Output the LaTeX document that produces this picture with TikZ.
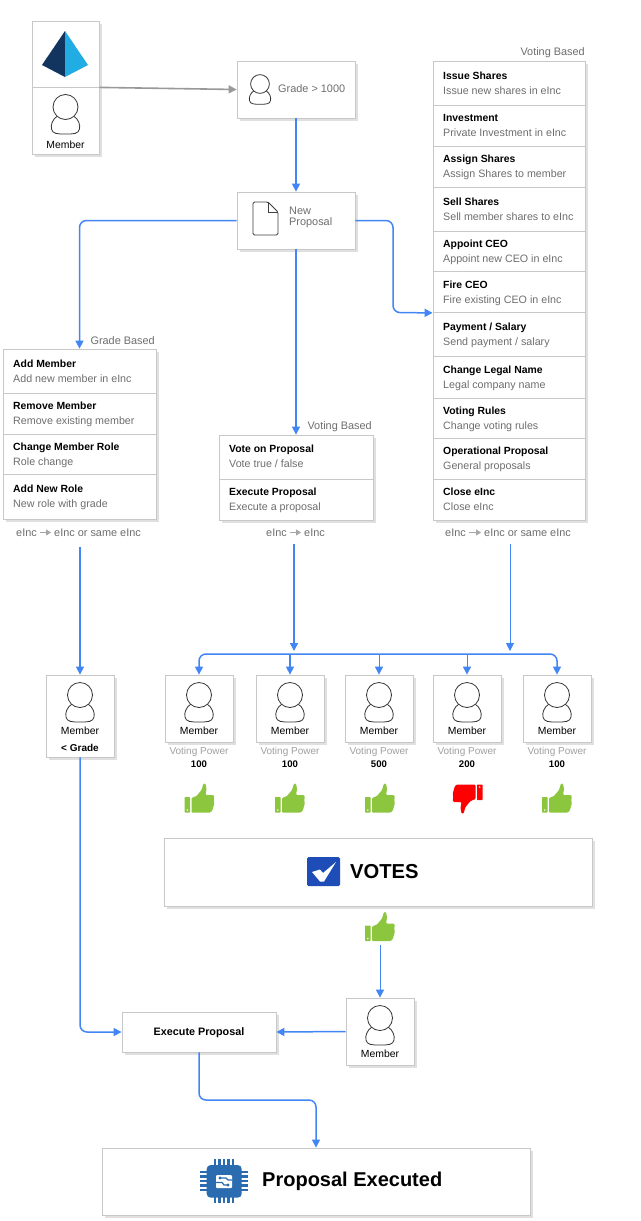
\documentclass[tikz,border=0pt]{standalone}
\usepackage{fontspec}
\setmainfont{Liberation Sans}
\usetikzlibrary{arrows.meta,shadows}
\definecolor{linkblue}{HTML}{4285F4}
\definecolor{edgegray}{HTML}{C8C8C8}
\definecolor{subgray}{HTML}{6E6E6E}
\definecolor{powergray}{HTML}{A0A0A0}
\definecolor{thumbgreen}{HTML}{8CC63F}
\definecolor{checkblue}{HTML}{1E4DB7}
\definecolor{chipblue}{HTML}{2B6CB0}
\definecolor{pyrdark}{HTML}{12355F}
\definecolor{pyrlight}{HTML}{21ACE4}
\newcommand{\fs}[1]{\fontsize{#1}{#1}\selectfont}
\tikzset{
  frame/.style={draw=edgegray,line width=.8pt,fill=white,inner sep=0pt,
    drop shadow={shadow xshift=2.5pt,shadow yshift=-2.5pt,opacity=.12,fill=black}},
  rowbox/.style={draw=edgegray,line width=.8pt,inner sep=0pt},
  flow/.style={draw=linkblue,line width=1.5pt,rounded corners=7pt,-{Triangle[length=8pt,width=8pt]}},
  thinflow/.style={flow,line width=1pt},
  greyflow/.style={draw=black!40,line width=1.6pt,-{Triangle[length=8pt,width=8pt]}},
  smallarrow/.style={draw=black!35,line width=.8pt,-{Triangle[length=5pt,width=6pt]}},
  evenline/.style={inner sep=0pt,text height=9pt,text depth=1.5pt},
  rowtitle/.style={evenline,anchor=west,font=\fs{10.4}\bfseries,text=black},
  rowsub/.style={evenline,anchor=west,font=\fs{10.7},text=subgray},
  tag/.style={evenline,font=\fs{10.9},text=subgray},
  membertext/.style={evenline,font=\fs{10.4},text=black},
  powertext/.style={evenline,font=\fs{10},text=powergray},
  powervalue/.style={evenline,font=\fs{9.6}\bfseries,text=black},
  personicon/.pic={
    \draw[line width=.8pt,fill=white,draw=black!80] (-8,9) .. controls (-13,12) and (-15,18) .. (-14,22)
      .. controls (-13,27) and (-8,27) .. (0,27) .. controls (8,27) and (13,27) .. (14,22)
      .. controls (15,18) and (13,12) .. (8,9);
    \draw[line width=.8pt,fill=white,draw=black!80] (0,0) circle (12.5pt);
  },
  thumbicon/.pic={
    \fill[#1,rounded corners=.6pt] (-15,-1) rectangle (-9.5,14.5);
    \fill[white] (-12.2,12) circle (.8pt);
    \fill[#1,rounded corners=1pt] (-8,14.5) -- (-8,0) -- (-3,-2) -- (2,-8) -- (4,-14.5) -- (6,-14.5)
      -- (7,-9) -- (6,-3) -- (14,-3) -- (15,-1) -- (14,2) -- (15,5) -- (14,8) -- (13,12) -- (11,14.5) -- cycle;
  }
}
\newcommand{\listrow}[7]{% name, xl, xr, ytop, ybot, ytitle, title
  \node[rowbox,minimum width=#3pt-#2pt,minimum height=#5pt-#4pt] (#1) at ({(#2+#3)/2},{(#4+#5)/2}) {};
  \node[rowtitle] (#1t) at (#2+10,#6) {#7};
}
\newcommand{\rowsubtext}[4]{\node[rowsub] (#1s) at (#2+10,#3) {#4};}
\newcommand{\memberbox}[4]{% name, xc, ytop, height
  \node[frame,minimum width=68pt,minimum height=#4pt] (#1) at (#2,{#3+#4/2}) {};
  \pic at (#2,#3+20) {personicon};
  \node[membertext] (#1l) at (#2,#3+56) {Member};
}
\begin{document}
\begin{tikzpicture}[x=1pt,y=-1pt]
\useasboundingbox[fill=white] (0,0) rectangle (640,1221);

% top-left card
\node[frame,minimum width=67pt,minimum height=66pt] (brand) at (65.5,54) {};
\node[frame,minimum width=67pt,minimum height=67pt] (memb) at (65.5,120.5) {};
\fill[pyrdark] (65,31) -- (42,65) -- (65,77) -- cycle;
\fill[pyrlight] (65,31) -- (88,65) -- (65,77) -- cycle;
\pic at (65.5,107) {personicon};
\node[membertext] (membl) at (65.5,144.5) {Member};

% grade and new proposal
\node[frame,minimum width=118pt,minimum height=57pt] (grade) at (296,89.5) {};
\pic[scale=.75] at (260,84) {personicon};
\node[tag,anchor=west] (gradel) at (278,88.5) {Grade > 1000};
\node[frame,minimum width=118pt,minimum height=57pt] (prop) at (296,220.5) {};
\draw[line width=.9pt,draw=black!75,rounded corners=1.5pt] (253,202) -- (268,202) -- (278,212) -- (278,235) -- (253,235) -- cycle;
\draw[line width=.7pt,draw=black!75] (268,202) -- (268,212) -- (278,212);
\node[tag,anchor=west] (propa) at (289,211) {New};
\node[tag,anchor=west] (propb) at (289,222) {Proposal};

% grade based list
\node[tag,anchor=east] (gbl) at (155,340.5) {Grade Based};
\node[frame,minimum width=153pt,minimum height=170pt] (glist) at (79.5,434) {};
\listrow{ga}{3}{156}{349}{393}{363.5}{Add Member}\rowsubtext{ga}{3}{378.5}{Add new member in eInc}
\listrow{gb}{3}{156}{393}{434}{406}{Remove Member}\rowsubtext{gb}{3}{421}{Remove existing member}
\listrow{gc}{3}{156}{434}{474.5}{447}{Change Member Role}\rowsubtext{gc}{3}{462}{Role change}
\listrow{gd}{3}{156}{474.5}{519}{489}{Add New Role}\rowsubtext{gd}{3}{504}{New role with grade}

% voting based middle
\node[tag,anchor=east] (vbl) at (372,426) {Voting Based};
\node[frame,minimum width=154pt,minimum height=85pt] (vlist) at (296,477.5) {};
\listrow{va}{219}{373}{435}{479}{449}{Vote on Proposal}\rowsubtext{va}{219}{464}{Vote true / false}
\listrow{vb}{219}{373}{479}{520}{492}{Execute Proposal}\rowsubtext{vb}{219}{507}{Execute a proposal}

% voting based right
\node[tag,anchor=east] (rbl) at (585,51.5) {Voting Based};
\node[frame,minimum width=152pt,minimum height=459pt] (rlist) at (509,290.5) {};
\listrow{ra}{433}{585}{61}{105}{75.5}{Issue Shares}\rowsubtext{ra}{433}{91}{Issue new shares in eInc}
\listrow{rb}{433}{585}{105}{146}{118}{Investment}\rowsubtext{rb}{433}{133}{Private Investment in eInc}
\listrow{rc}{433}{585}{146}{187}{159}{Assign Shares}\rowsubtext{rc}{433}{174}{Assign Shares to member}
\listrow{rd}{433}{585}{187}{231}{201.5}{Sell Shares}\rowsubtext{rd}{433}{216.5}{Sell member shares to eInc}
\listrow{re}{433}{585}{231}{271.5}{243.5}{Appoint CEO}\rowsubtext{re}{433}{258.5}{Appoint new CEO in eInc}
\listrow{rf}{433}{585}{271.5}{312.5}{285}{Fire CEO}\rowsubtext{rf}{433}{300}{Fire existing CEO in eInc}
\listrow{rg}{433}{585}{312.5}{356.5}{327}{Payment / Salary}\rowsubtext{rg}{433}{342}{Send payment / salary}
\listrow{rh}{433}{585}{356.5}{398}{369.5}{Change Legal Name}\rowsubtext{rh}{433}{385}{Legal company name}
\listrow{ri}{433}{585}{398}{438.5}{410.5}{Voting Rules}\rowsubtext{ri}{433}{425.5}{Change voting rules}
\listrow{rj}{433}{585}{438.5}{479.5}{451}{Operational Proposal}\rowsubtext{rj}{433}{466}{General proposals}
\listrow{rk}{433}{585}{479.5}{520}{492}{Close eInc}\rowsubtext{rk}{433}{507}{Close eInc}

% transition captions
\node[tag,anchor=west] (t1a) at (16,532.5) {eInc};
\node[tag,anchor=west] (t1b) at (54,532.5) {eInc or same eInc};
\draw[smallarrow] (t1a.east) ++(3,0) -- ([xshift=-3pt]t1b.west);
\node[tag,anchor=west] (t2a) at (266,532.5) {eInc};
\node[tag,anchor=west] (t2b) at (304,532.5) {eInc};
\draw[smallarrow] (t2a.east) ++(3,0) -- ([xshift=-3pt]t2b.west);
\node[tag,anchor=west] (t3a) at (445,532.5) {eInc};
\node[tag,anchor=west] (t3b) at (484,532.5) {eInc or same eInc};
\draw[smallarrow] (t3a.east) ++(3,0) -- ([xshift=-3pt]t3b.west);

% members
\memberbox{lm}{80}{675}{82}
\node[evenline,font=\fs{10}\bfseries] (lmg) at (80,748) {< Grade};
\memberbox{ma}{199}{675}{67}
\memberbox{mb}{290}{675}{67}
\memberbox{mc}{379}{675}{67}
\memberbox{md}{467}{675}{67}
\memberbox{me}{557}{675}{67}

\foreach \n/\x/\v in {pa/199/100,pb/290/100,pc/379/500,pd/467/200,pe/557/100}{
  \node[powertext] (\n) at (\x,751) {Voting Power};
  \node[powervalue] (\n v) at (\x,764) {\v};
}
\pic at (199.5,798) {thumbicon=thumbgreen};
\pic at (290,798) {thumbicon=thumbgreen};
\pic at (380,798) {thumbicon=thumbgreen};
\pic[rotate=180] at (467.5,799) {thumbicon=red};
\pic at (557,798) {thumbicon=thumbgreen};

% votes
\node[frame,minimum width=428pt,minimum height=68pt] (votes) at (378,872) {};
\fill[checkblue,rounded corners=1.5pt] (307,857) rectangle (340,886);
\fill[white] (312,872) -- (320,869.5) -- (323,873) -- (336,862) -- (324,881.5) -- (320,881.5) -- cycle;
\node[inner sep=0pt,anchor=west,font=\fs{20.2}\bfseries] (votesl) at (350,871.5) {VOTES};
\pic at (380,926.5) {thumbicon=thumbgreen};

% execution
\memberbox{mf}{380}{998}{67}
\node[frame,minimum width=154pt,minimum height=40pt] (exec) at (199,1032) {};
\node[evenline,font=\fs{10.8}\bfseries] (execl) at (199,1031.5) {Execute Proposal};
\node[frame,minimum width=428pt,minimum height=67pt] (done) at (316,1181.5) {};
\foreach \d in {-9,-4.5,0,4.5,9}{
  \draw[chipblue,line width=2.2pt] (224+\d,1159) -- (224+\d,1202.7);
  \draw[chipblue,line width=2.2pt] (200,1181+\d) -- (247.7,1181+\d);
}
\fill[chipblue,rounded corners=4pt] (206.7,1165) rectangle (241.7,1197.7);
\fill[white,rounded corners=1pt] (216,1175) rectangle (232,1188);
\draw[chipblue,line width=1.2pt] (220,1178) -- (226,1178) -- (228,1180) -- (232,1180);
\draw[chipblue,line width=1.2pt] (216,1182.5) -- (222,1182.5) -- (224,1185) -- (228,1185);
\fill[chipblue] (220,1178) circle (1.7pt) (228,1185) circle (1.7pt);
\node[inner sep=0pt,anchor=west,font=\fs{20}\bfseries] (donel) at (262,1181.5) {Proposal Executed};

% connectors
\draw[greyflow] (brand.south east) -- (grade.west);
\draw[flow] (grade.south) -- (prop.north);
\draw[flow] (prop.west) -| (glist.north);
\coordinate (jog) at (393,312.5);
\draw[flow] (prop.east) -| (jog) -- (rf.south west);
\draw[flow] (prop.south) -- (vlist.north);
\coordinate (glow) at (80,547);
\draw[flow] (glow) -- (lm.north);
\coordinate (bus) at (379,654);
\coordinate (vlow) at (294,544);
\coordinate (vhit) at (294,651);
\coordinate (rlow) at (510,544);
\coordinate (rhit) at (510,651);
\draw[flow] (vlow) -- (vhit);
\draw[thinflow] (rlow) -- (rhit);
\draw[flow,{Triangle[length=8pt,width=8pt]}-{Triangle[length=8pt,width=8pt]}] (ma.north) |- (bus) -| (me.north);
\draw[flow] (mb.north |- bus) -- (mb.north);
\draw[thinflow] (mc.north |- bus) -- (mc.north);
\draw[thinflow] (md.north |- bus) -- (md.north);
\coordinate (thumbfoot) at (380,945);
\draw[thinflow] (thumbfoot) -- (mf.north);
\draw[flow] (mf.west) -- (exec.east);
\draw[flow] (lm.south) |- (exec.west);
\coordinate (mid) at (257,1100);
\draw[flow] (exec.south) |- (mid) -| (done.north);
\end{tikzpicture}
\end{document}
